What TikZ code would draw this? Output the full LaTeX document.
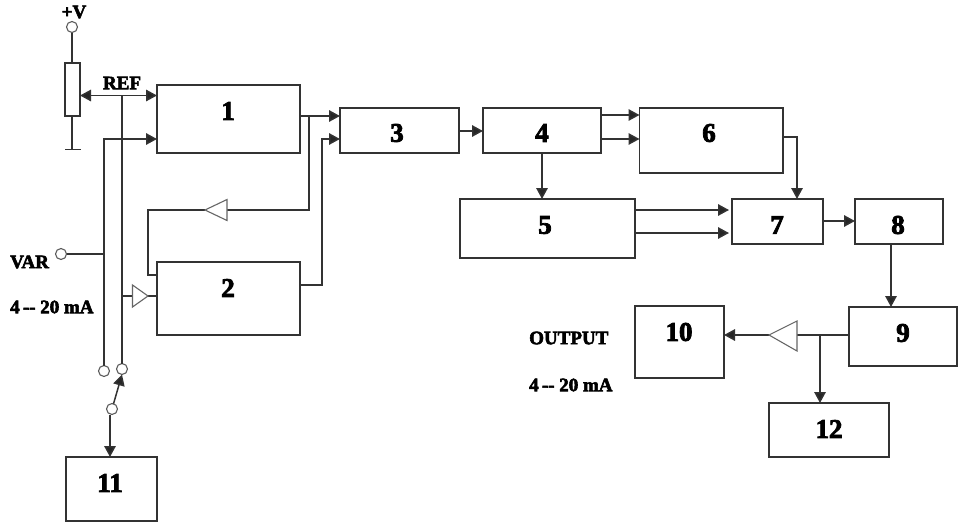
\documentclass[tikz,border=0pt]{standalone}
\usepackage{fontspec}
\setmainfont{Liberation Serif}
\newfontfamily\labfont[FakeBold=3]{Liberation Serif Bold}
\usetikzlibrary{arrows.meta,calc}
\definecolor{ink}{HTML}{333333}
\tikzset{
  boxnode/.style={draw=ink,line width=1.4pt,inner sep=0pt,outer sep=0pt},
  wire/.style={draw=ink,line width=1.5pt},
  arr/.style={wire,-{Triangle[length=11pt,width=11.5pt,fill=black!85]}},
  darr/.style={wire,{Triangle[length=11pt,width=11.5pt,fill=black!85]}-{Triangle[length=11pt,width=11.5pt,fill=black!85]}},
  term/.style={circle,draw=ink!80,line width=1.1pt,fill=white,minimum size=11pt,inner sep=0pt,outer sep=0pt},
  ampl/.style={draw=ink!75,line width=1.1pt,fill=white,line join=miter},
  num/.style={font=\labfont\fontsize{27}{27}\selectfont,inner sep=0pt,text=black},
  captext/.style={font=\labfont\fontsize{19}{19}\selectfont,inner sep=0pt,text=black}
}
\newcommand{\blk}[5]{\node[boxnode,minimum width=#4pt-#2pt,minimum height=#5pt-#3pt] (#1) at ({(#2+#4)/2},{(#3+#5)/2}) {};}
\begin{document}
\begin{tikzpicture}[x=1pt,y=-1pt]
\useasboundingbox (0,0) rectangle (959,522);
\fill[white] (0,0) rectangle (959,522);
% blocks
\blk{n1}{157}{85}{300}{153}
\blk{n2}{157}{262}{300}{335}
\blk{n3}{340}{108}{459}{153}
\blk{n4}{483}{108}{601}{153}
\blk{n5}{460}{199}{635}{258}
\blk{n6}{639.5}{108}{783}{173}
\blk{n7}{732}{199}{823}{244}
\blk{n8}{855}{199}{943}{244}
\blk{n9}{849}{307}{957}{366}
\blk{n10}{635}{306}{724}{378}
\blk{n11}{66}{457}{157}{521}
\blk{n12}{769}{403}{889}{457}
\node[boxnode,minimum width=15pt,minimum height=53pt] (res) at (72.5,89.5) {};
% block numbers
\node[num] (t1) at (228,111) {1};
\node[num] (t2) at (228,288) {2};
\node[num] (t3) at (397,133) {3};
\node[num] (t4) at (542,133) {4};
\node[num] (t5) at (545,225) {5};
\node[num] (t6) at (709,133) {6};
\node[num] (t7) at (777,225) {7};
\node[num] (t8) at (898,225) {8};
\node[num] (t9) at (903,333) {9};
\node[num] (t10) at (679,332) {10};
\node[num] (t11) at (110,483) {11};
\node[num] (t12) at (829,429) {12};
% captions
\node[captext] (lv) at (74,12) {+V};
\node[captext] (lref) at (122,83) {REF};
\node[captext,anchor=west] (lvar) at (10,262) {VAR};
\node[captext,anchor=west] (lma) at (10,307) {4\,-- 20 mA};
\node[captext,anchor=west] (lout) at (529,338) {OUTPUT};
\node[captext,anchor=west] (lmb) at (529,385) {4\,-- 20 mA};
% terminals
\node[term] (tv) at (72,27) {};
\node[term] (tvar) at (61,254) {};
\node[term] (ta) at (104,371) {};
\node[term] (tb) at (122,369) {};
\node[term] (tc) at (112,409) {};
% junctions
\coordinate (gnd) at (72.5,149.5);
\coordinate (jref) at (122,95.5);
\coordinate (jbuf) at (122,296);
\coordinate (jvar) at (104,254);
\coordinate (j1) at (309,116);
\coordinate (j9) at (820,335);
% resistor and ground
\draw[wire] (tv) -- (res.north -| tv);
\draw[wire] (res.south -| tv) -- (gnd -| tv);
\draw[wire] (65,149.5) -- (81,149.5);
% reference lines
\draw[darr] (res.east |- jref) -- (n1.west |- jref);
\draw[wire] (jref) -- (tb);
\draw[arr] (ta.north -| jvar) -- (jvar |- 0,139) -- (n1.west |- 0,139);
\draw[wire] (tvar) -- (jvar);
% switch
\draw[arr] (tc) -- (tb.south);
\draw[arr] (tc.south -| 110,0) -- (n11.north -| 110,0);
% buffer to block 2
\coordinate (bufb) at (148,296);
\draw[wire] (jbuf) -- (132.5,296);
\draw[wire] (bufb) -- (n2.west |- bufb);
\draw[ampl] (132.5,285) -- (148,296) -- (132.5,307) -- cycle;
% feedback
\coordinate (fbt) at (205,210);
\coordinate (fbb) at (227,210);
\draw[wire] (n2.west |- 0,275) -- (148,275) -- (148,210) -- (fbt);
\draw[wire] (fbb) -- (309,210) -- (j1);
\draw[ampl] (205,210) -- (227,199.5) -- (227,220.5) -- cycle;
% 1,2 -> 3
\draw[arr] (n1.east |- j1) -- (n3.west |- j1);
\draw[arr] (n2.east |- 0,285) -- (322,285) -- (322,139) -- (n3.west |- 0,139);
% chain
\draw[arr] (n3.east |- 0,131) -- (n4.west |- 0,131);
\draw[arr] (n4.east |- 0,115) -- (n6.west |- 0,115);
\draw[arr] (n4.east |- 0,139) -- (n6.west |- 0,139);
\draw[arr] (n4.south -| 542,0) -- (n5.north -| 542,0);
\draw[arr] (n5.east |- 0,210) -- (729,210);
\draw[arr] (n5.east |- 0,233) -- (729,233);
\draw[arr] (n6.east |- 0,137) -- (797,137) -- (n7.north -| 797,0);
\draw[arr] (n7.east |- 0,221) -- (n8.west |- 0,221);
\draw[arr] (n8.south -| 891,0) -- (n9.north -| 891,0);
% output
\coordinate (otip) at (769,335);
\coordinate (obase) at (797,335);
\draw[wire] (n9.west |- j9) -- (obase);
\draw[arr] (otip) -- (n10.east |- otip);
\draw[ampl] (769,335) -- (797,321) -- (797,351) -- cycle;
\draw[arr] (j9) -- (n12.north -| j9);
\end{tikzpicture}
\end{document}
